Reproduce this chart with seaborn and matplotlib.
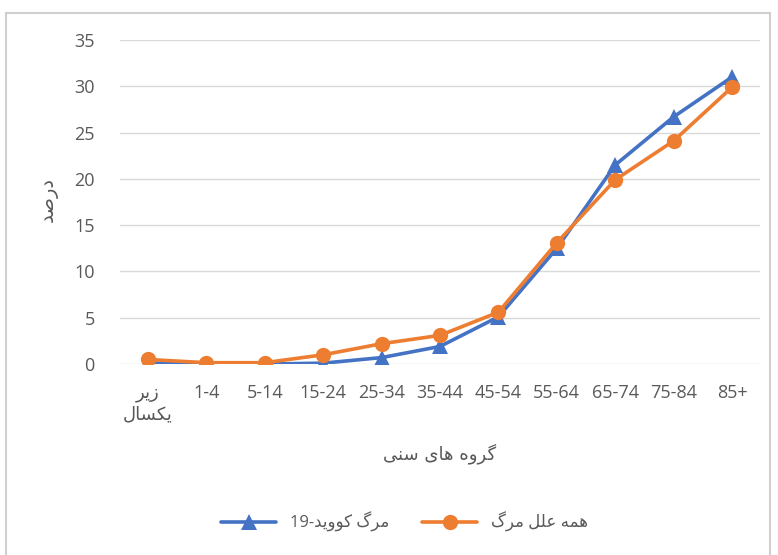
import re
import numpy as np
import pandas as pd
import seaborn as sns
import matplotlib
matplotlib.use("Agg")
import matplotlib.pyplot as plt
from matplotlib.lines import Line2D
from matplotlib.patches import Rectangle

# ---- data -------------------------------------------------------------
age_groups = ["زیر\nیکسال", "1-4", "5-14", "15-24", "25-34", "35-44",
              "45-54", "55-64", "65-74", "75-84", "85+"]
covid_deaths = [0.1, 0.0, 0.0, 0.1, 0.7, 1.9, 5.1, 12.5, 21.5, 26.7, 31.0]
all_deaths = [0.5, 0.15, 0.15, 1.0, 2.2, 3.1, 5.6, 13.1, 19.9, 24.1, 29.9]
series_names = ["مرگ کووید-19", "همه علل مرگ"]
y_label = "درصد"
x_label = "گروه های سنی"

# ---- minimal Persian shaping (presentation forms + visual order) ------
FORMS = {
    'ا': ('\uFE8D', '\uFE8E', None, None),
    'د': ('\uFEA9', '\uFEAA', None, None),
    'ر': ('\uFEAD', '\uFEAE', None, None),
    'ز': ('\uFEAF', '\uFEB0', None, None),
    'و': ('\uFEED', '\uFEEE', None, None),
    'س': ('\uFEB1', '\uFEB2', '\uFEB3', '\uFEB4'),
    'ص': ('\uFEB9', '\uFEBA', '\uFEBB', '\uFEBC'),
    'ع': ('\uFEC9', '\uFECA', '\uFECB', '\uFECC'),
    'ل': ('\uFEDD', '\uFEDE', '\uFEDF', '\uFEE0'),
    'م': ('\uFEE1', '\uFEE2', '\uFEE3', '\uFEE4'),
    'ن': ('\uFEE5', '\uFEE6', '\uFEE7', '\uFEE8'),
    'ه': ('\uFEE9', '\uFEEA', '\uFEEB', '\uFEEC'),
    'ی': ('\uFBFC', '\uFBFD', '\uFBFE', '\uFBFF'),
    'ک': ('\uFB8E', '\uFB8F', '\uFB90', '\uFB91'),
    'گ': ('\uFB92', '\uFB93', '\uFB94', '\uFB95'),
}


def shape_line(text):
    out = []
    for i, ch in enumerate(text):
        if ch not in FORMS:
            out.append(ch)
            continue
        prev = text[i - 1] if i > 0 else ''
        nxt = text[i + 1] if i + 1 < len(text) else ''
        joins_before = prev in FORMS and FORMS[prev][2] is not None
        joins_after = FORMS[ch][2] is not None and nxt in FORMS
        iso, fin, ini, med = FORMS[ch]
        if joins_before and joins_after:
            out.append(med)
        elif joins_before:
            out.append(fin)
        elif joins_after:
            out.append(ini)
        else:
            out.append(iso)
    visual = ''.join(out)[::-1]
    # digit runs keep left-to-right order
    return re.sub(r'[0-9]+', lambda m: m.group(0)[::-1], visual)


def fa(text):
    if not re.search('[\u0600-\u06FF]', text):
        return text
    return '\n'.join(shape_line(part) for part in text.split('\n'))


# ---- style --------------------------------------------------------------
sns.set_theme(style="white")
plt.rcParams['font.family'] = ['Open Sans', 'DejaVu Sans']
text_color = "#595959"

fig = plt.figure(figsize=(7.78, 5.55), dpi=100)
ax = fig.add_axes([0.154, 0.344, 0.823, 0.584])

df = pd.DataFrame({
    "pos": list(range(len(age_groups))) * 2,
    "value": covid_deaths + all_deaths,
    "series": [series_names[0]] * len(age_groups) + [series_names[1]] * len(age_groups),
})
palette = {series_names[0]: "#4472C4", series_names[1]: "#ED7D31"}
markers = {series_names[0]: "^", series_names[1]: "o"}

sns.lineplot(data=df, x="pos", y="value", hue="series", style="series",
             palette=palette, markers=markers, dashes=False, linewidth=2.6,
             markersize=11, markeredgewidth=0, ax=ax, legend=False, zorder=3)

ax.set_xlim(-0.48, 10.48)
ax.set_ylim(0, 35)
ax.set_yticks(range(0, 36, 5))
ax.set_xticks(range(len(age_groups)))
ax.set_xticklabels([fa(a) for a in age_groups], fontsize=13, color=text_color,
                   linespacing=1.25)
ax.tick_params(axis='y', labelsize=13, labelcolor=text_color, length=0, pad=18)
ax.tick_params(axis='x', length=0, pad=14)
ax.grid(axis='y', color="#d9d9d9", linewidth=1)
ax.grid(axis='x', visible=False)
for s in ax.spines.values():
    s.set_visible(False)
ax.set_xlabel("")
ax.set_ylabel("")

fig.text(0.565, 0.183, fa(x_label), ha='center', va='center', fontsize=13,
         color=text_color, family=['DejaVu Sans'])
fig.text(0.062, 0.64, fa(y_label), ha='center', va='center', fontsize=14,
         color=text_color, rotation=90, family=['DejaVu Sans'])

handles = [Line2D([], [], color=palette[n], marker=markers[n], linewidth=2.6,
                  markersize=11, markeredgewidth=0) for n in series_names]
fig.legend(handles, [fa(n) for n in series_names], loc='center',
           bbox_to_anchor=(0.52, 0.06), ncol=2, frameon=False, fontsize=12,
           handlelength=3.3, columnspacing=2.0, labelcolor=text_color)

# chart area border
fig.patches.append(Rectangle((0.008, -0.01), 0.982, 0.987, transform=fig.transFigure,
                             fill=False, edgecolor="#d0d0d0", linewidth=1.5))

fig.savefig("out.png", dpi=100)
